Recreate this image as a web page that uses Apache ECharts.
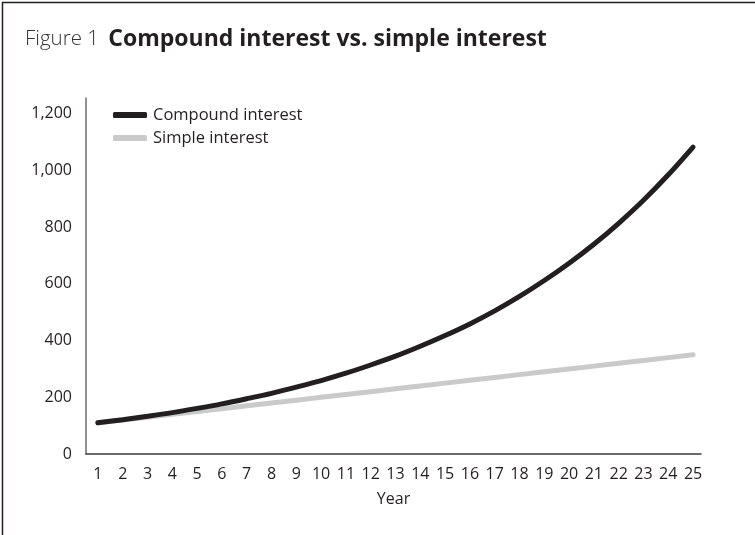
<!DOCTYPE html>
<html>
<head>
<meta charset="utf-8">
<script src="https://cdn.jsdelivr.net/npm/echarts@6/dist/echarts.min.js"></script>
<style>
  html, body { margin: 0; padding: 0; background: #fff; }
  #chart { width: 755px; height: 535px; }
</style>
</head>
<body>
<div id="chart"></div>
<script>
// Values
const years = [1, 2, 3, 4, 5, 6, 7, 8, 9, 10, 11, 12, 13, 14, 15, 16, 17, 18, 19, 20, 21, 22, 23, 24, 25]
const compound = [110, 121, 133, 146, 161, 177, 195, 214, 236, 259, 285, 314, 345, 380, 418, 459, 505, 556, 612, 673, 740, 814, 895, 985, 1083]
const simple = [110, 120, 130, 140, 150, 160, 170, 180, 190, 200, 210, 220, 230, 240, 250, 260, 270, 280, 290, 300, 310, 320, 330, 340, 350]
const yTicks = [0, 200, 400, 600, 800, 1000, 1200]

const ink = "#231f20"
const font = "'Open Sans', 'Noto Sans', sans-serif"

const chart = echarts.init(document.getElementById("chart"), null, { renderer: "canvas" })

chart.setOption({
  backgroundColor: "#fff",
  animation: false,
  textStyle: { fontFamily: font, color: ink },
  title: {
    left: 20,
    top: 23,
    text: "{a|Figure 1}  {b|Compound interest vs. simple interest}",
    textStyle: {
      rich: {
        a: { fontFamily: font, fontSize: 20.5, fontWeight: 300, color: "#333" },
        b: { fontFamily: font, fontSize: 23, fontWeight: "bold", color: ink },
      },
    },
  },
  legend: {
    orient: "vertical",
    left: 108,
    top: 101,
    itemWidth: 34,
    itemHeight: 6,
    itemGap: 5,
    data: [
      { name: "Compound interest", icon: "roundRect" },
      { name: "Simple interest", icon: "roundRect" },
    ],
    textStyle: { fontFamily: font, fontSize: 16.5, color: ink, lineHeight: 18, padding: [0, 0, 0, 1] },
  },
  grid: { left: 86, right: 54, top: 98, bottom: 81, containLabel: false },
  xAxis: {
    type: "value",
    min: 0.52,
    max: 25.32,
    name: "Year",
    nameLocation: "middle",
    nameGap: 37,
    nameTextStyle: { fontFamily: font, fontSize: 16, color: ink },
    axisLine: { show: true, lineStyle: { color: "#3a3a3a", width: 1.5 } },
    axisTick: { show: false },
    splitLine: { show: false },
    axisLabel: {
      customValues: years,
      margin: 12,
      fontFamily: font,
      fontSize: 16,
      color: ink,
    },
  },
  yAxis: {
    type: "value",
    min: 0,
    max: 1256,
    axisLine: { show: true, lineStyle: { color: "#6d6d6d", width: 1.5 } },
    axisTick: { show: false },
    splitLine: { show: false },
    axisLabel: {
      customValues: yTicks,
      margin: 14,
      fontFamily: font,
      fontSize: 16,
      color: ink,
      formatter: (v) => v.toLocaleString("en-US"),
    },
  },
  series: [
    {
      name: "Simple interest",
      type: "line",
      data: years.map((y, i) => [y, simple[i]]),
      showSymbol: false,
      lineStyle: { color: "#c9caca", width: 5, cap: "round" },
      itemStyle: { color: "#c9caca" },
      z: 2,
    },
    {
      name: "Compound interest",
      type: "line",
      smooth: 0.3,
      data: years.map((y, i) => [y, compound[i]]),
      showSymbol: false,
      lineStyle: { color: ink, width: 5, cap: "round" },
      itemStyle: { color: ink },
      z: 3,
    },
  ],
  graphic: [
    { type: "line", shape: { x1: 2.5, y1: 2, x2: 2.5, y2: 535 }, style: { stroke: ink, lineWidth: 1.5 } },
    { type: "line", shape: { x1: 2, y1: 2.5, x2: 755, y2: 2.5 }, style: { stroke: ink, lineWidth: 1.5 } },
  ],
})
</script>
</body>
</html>
